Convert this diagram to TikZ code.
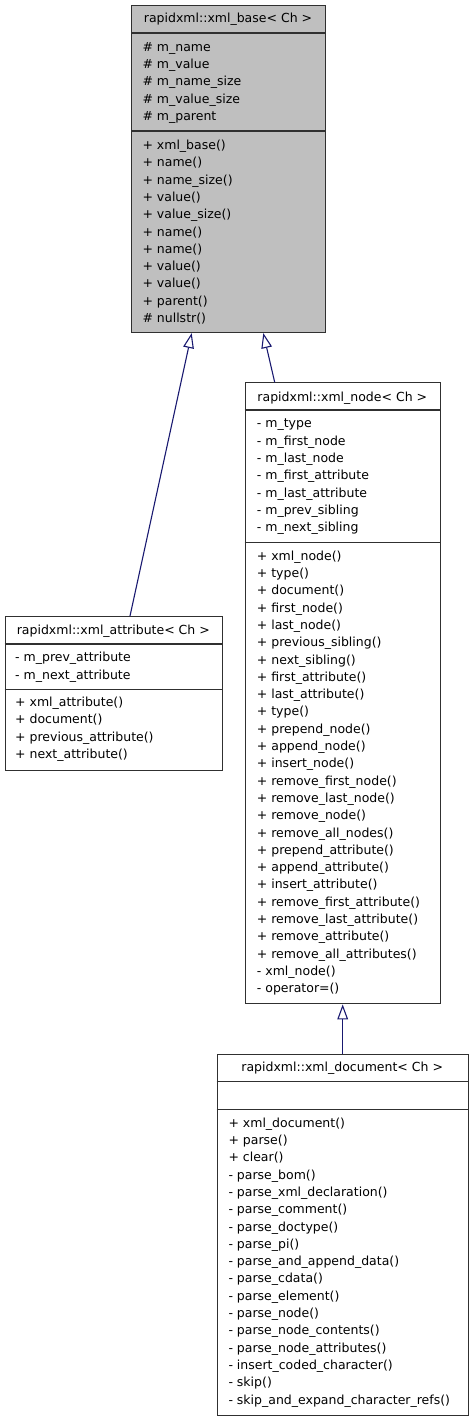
\documentclass[tikz,border=0pt]{standalone}
\usepackage{fontspec}
\setmainfont{DejaVu Sans}
\usetikzlibrary{arrows.meta,calc}
\definecolor{edgeblue}{HTML}{191970}
\definecolor{boxline}{HTML}{303030}
\newcommand\classlines[4]{%
  \foreach \t [count=\i from 0] in {#4} {\node[txt] (#1\i) at (#2,{#3+\i*17.3}) {\t};}}
\begin{document}
\begin{tikzpicture}[x=1pt,y=-1pt,
  classbox/.style={draw=boxline,line width=1.1pt,inner sep=0pt,anchor=north west},
  sep/.style={draw=boxline,line width=1.1pt},
  txt/.style={anchor=base west,inner sep=0pt,font=\fontsize{12.5}{15}\selectfont},
  ttl/.style={anchor=base,inner sep=0pt,font=\fontsize{12.5}{15}\selectfont},
  inh/.style={draw=edgeblue,line width=1.1pt,-{Triangle[open,length=15pt,width=10.7pt,fill=white]}}]
\useasboundingbox (0,0) rectangle (473,1421);

% ---- xml_base
\node[classbox,fill=black!25,minimum width=194pt,minimum height=327pt] (base) at (131,5) {};
\draw[sep] (131,33) -- (325,33);
\draw[sep] (131,131) -- (325,131);
\node[ttl] (baset) at (228,23) {rapidxml::xml\_base< Ch >};
\classlines{ba}{142.3}{51.2}{\# m\_name,\# m\_value,\# m\_name\_size,\# m\_value\_size,\# m\_parent}
\classlines{bm}{142.3}{149.5}{+ xml\_base(),+ name(),+ name\_size(),+ value(),+ value\_size(),+ name(),+ name(),+ value(),+ value(),+ parent(),\# nullstr()}

% ---- xml_attribute
\node[classbox,minimum width=217.3pt,minimum height=154pt] (attr) at (4.7,616) {};
\draw[sep] (4.7,644) -- (222,644);
\draw[sep] (4.7,689.3) -- (222,689.3);
\node[ttl] (attrt) at (113.3,634.5) {rapidxml::xml\_attribute< Ch >};
\classlines{aa}{15}{661.8}{- m\_prev\_attribute,- m\_next\_attribute}
\classlines{am}{15}{706.5}{+ xml\_attribute(),+ document(),+ previous\_attribute(),+ next\_attribute()}

% ---- xml_node
\node[classbox,minimum width=195.3pt,minimum height=621pt] (node) at (244.7,382.3) {};
\draw[sep] (244.7,410) -- (440,410);
\draw[sep] (244.7,542.7) -- (440,542.7);
\node[ttl] (nodet) at (342.3,401) {rapidxml::xml\_node< Ch >};
\classlines{na}{256.7}{427.8}{- m\_type,- m\_first\_node,- m\_last\_node,- m\_first\_attribute,- m\_last\_attribute,- m\_prev\_sibling,- m\_next\_sibling}
\classlines{nm}{256.7}{560.2}{+ xml\_node(),+ type(),+ document(),+ first\_node(),+ last\_node(),+ previous\_sibling(),+ next\_sibling(),+ first\_attribute(),+ last\_attribute(),+ type(),+ prepend\_node(),+ append\_node(),+ insert\_node(),+ remove\_first\_node(),+ remove\_last\_node(),+ remove\_node(),+ remove\_all\_nodes(),+ prepend\_attribute(),+ append\_attribute(),+ insert\_attribute(),+ remove\_first\_attribute(),+ remove\_last\_attribute(),+ remove\_attribute(),+ remove\_all\_attributes(),- xml\_node(),- operator=()}

% ---- xml_document
\node[classbox,minimum width=251pt,minimum height=361pt] (doc) at (216.7,1054) {};
\draw[sep] (216.7,1081.7) -- (467.7,1081.7);
\draw[sep] (216.7,1109.3) -- (467.7,1109.3);
\node[ttl] (doct) at (342.2,1071.2) {rapidxml::xml\_document< Ch >};
\classlines{dm}{228.3}{1127.2}{+ xml\_document(),+ parse(),+ clear(),- parse\_bom(),- parse\_xml\_declaration(),- parse\_comment(),- parse\_doctype(),- parse\_pi(),- parse\_and\_append\_data(),- parse\_cdata(),- parse\_element(),- parse\_node(),- parse\_node\_contents(),- parse\_node\_attributes(),- insert\_coded\_character(),- skip(),- skip\_and\_expand\_character\_refs()}

% ---- inheritance connectors
\coordinate (attrTop) at ($(attr.north west)+(125.3pt,0)$);
\coordinate (baseTipA) at ($(base.south west)+(60.7pt,0)$);
\coordinate (nodeTop) at ($(node.north west)+(30pt,0)$);
\coordinate (baseTipN) at ($(base.south west)+(132.3pt,0)$);
\coordinate (docTop) at (doc.north -| 342.7,0);
\coordinate (nodeTip) at (node.south -| 342.7,0);
\draw[inh] (attrTop) -- (baseTipA);
\draw[inh] (nodeTop) -- (baseTipN);
\draw[inh] (docTop) -- (nodeTip);
\end{tikzpicture}
\end{document}
